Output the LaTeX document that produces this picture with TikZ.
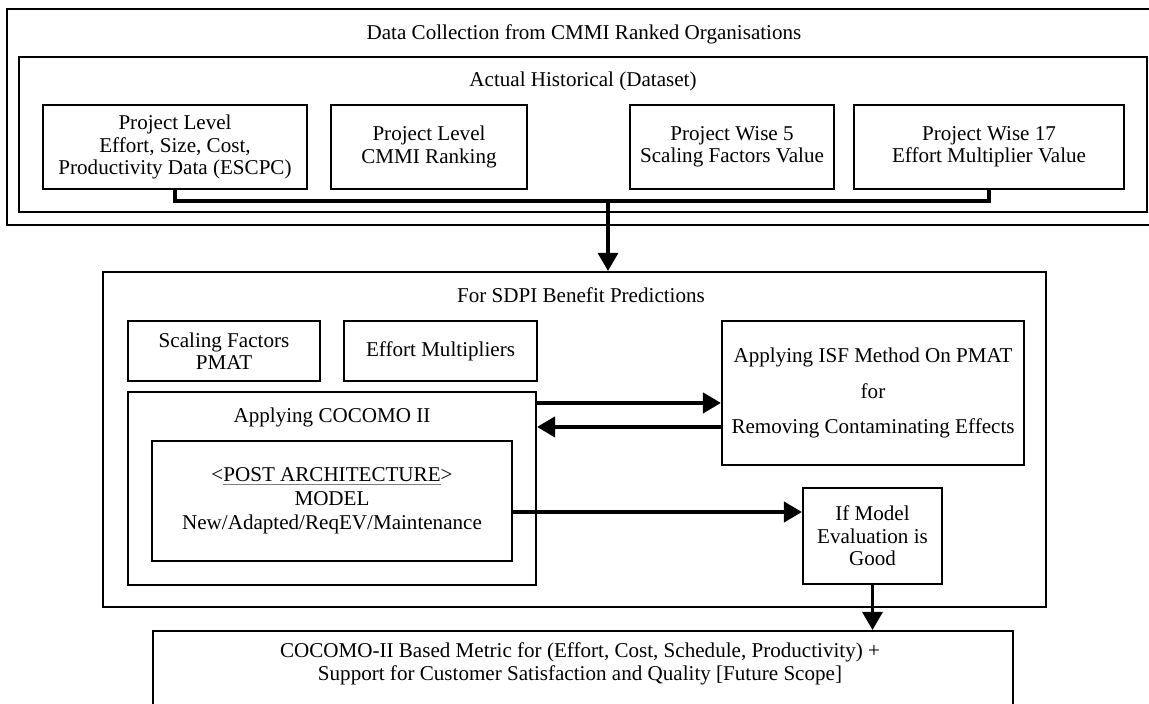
\documentclass[tikz,border=0pt]{standalone}
\usepackage{fontspec}
\setmainfont{Liberation Serif}
\usetikzlibrary{arrows.meta}

\begin{document}
\begin{tikzpicture}[x=0.02cm, y=-0.02cm,
    font=\fontsize{12}{12.8}\selectfont,
    box/.style = {draw, line width=1.2pt, align=center, inner sep=0pt},
    boxsize/.style 2 args = {minimum width=#1*0.02cm, minimum height=#2*0.02cm},
    title/.style = {anchor=base, inner sep=0pt},
    link/.style = {line width=2.3pt},
    arr/.style = {line width=2.3pt, -{Triangle[length=0.36cm, width=0.4cm]}}]
\useasboundingbox (0,0) rectangle (1149,703);

\node[box, boxsize={1163}{216}] (org) at (588.5,117) {};
\node[title] (orgtitle) at (584,39) {Data Collection from CMMI Ranked Organisations};
\node[box, boxsize={1128}{155}] (hist) at (583,134.5) {};
\node[title] (histtitle) at (583,86) {Actual Historical (Dataset)};

\node[box, boxsize={264}{84}] (pa) at (175,147)
    {Project Level\\Effort, Size, Cost,\\Productivity Data (ESCPC)};
\node[box, boxsize={196}{84}] (pb) at (429,147) {Project Level\\CMMI Ranking};
\node[box, boxsize={204}{84}] (pc) at (732,147) {Project Wise 5\\Scaling Factors Value};
\node[box, boxsize={270}{84}] (pd) at (989,147) {Project Wise 17\\Effort Multiplier Value};

\node[box, boxsize={943}{335}] (pred) at (574.5,439.5) {};
\node[title] (predtitle) at (581,302) {For SDPI Benefit Predictions};
\node[box, boxsize={192}{60}] (sf) at (224,351) {Scaling Factors\\PMAT};
\node[box, boxsize={193}{60}] (em) at (440.5,351) {Effort Multipliers};
\node[box, boxsize={302}{144}, font=\fontsize{12}{20.1}\selectfont] (isf) at (873,393)
    {Applying ISF Method On PMAT\\for\\Removing Contaminating Effects};
\node[box, boxsize={408}{193}] (coco) at (332,488.5) {};
\node[title] (cocotitle) at (332,422) {Applying COCOMO II};
\node[box, boxsize={360}{120}, font=\fontsize{12}{13.6}\selectfont] (post) at (332,501)
    {<{\color{gray}\underline{\color{black}POST ARCHITECTURE}}>\\MODEL\\New/Adapted/ReqEV/Maintenance};
\node[box, boxsize={139}{96}] (ifgood) at (872.5,536) {If Model\\Evaluation is\\Good};

\node[box, boxsize={860}{110}] (future) at (583,686) {};
\node[align=center, inner sep=0pt] (futuretext) at (580,664)
    {COCOMO-II Based Metric for (Effort, Cost, Schedule, Productivity) +\\Support for Customer Satisfaction and Quality [Future Scope]};

\draw[link] (pa.south) -- ++(0,11) -| (pd.south);
\coordinate (hub) at (608,200);
\draw[arr, line width=1.8pt] (hub) -- (hub |- pred.north);

\coordinate (r1) at ([yshift=-0.24cm]coco.north east);
\coordinate (r2) at ([yshift=-0.72cm]coco.north east);
\coordinate (r3) at ([yshift=-0.22cm]post.east);
\draw[arr] (r1) -- (r1 -| isf.west);
\draw[arr] (r2 -| isf.west) -- (r2);
\draw[arr] (r3) -- (r3 -| ifgood.west);
\draw[arr, line width=1.8pt] (ifgood.south) -- (ifgood.south |- future.north);
\end{tikzpicture}
\end{document}
